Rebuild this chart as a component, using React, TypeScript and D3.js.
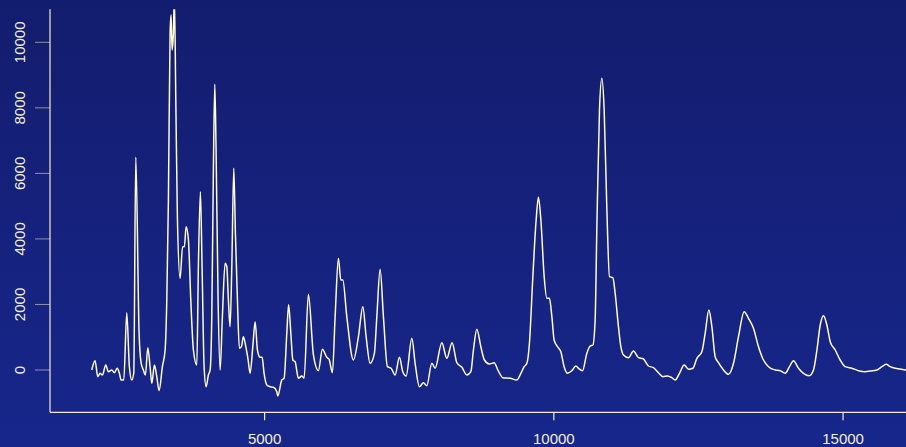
import React, { useMemo } from "react";
import * as d3 from "d3";

// Spectrum: mass-to-charge (Da) and intensity
const massToCharge = [
  2012, 2069, 2116, 2156, 2196, 2254, 2299, 2358, 2403, 2450, 2490, 2519, 2566, 2617, 2662, 2704, 2738, 2773, 2830, 2865,
  2904, 2939, 2981, 3020, 3050, 3095, 3136, 3176, 3233, 3280, 3309, 3337, 3366, 3383, 3401, 3423, 3440, 3465, 3492, 3539,
  3582, 3613, 3643, 3683, 3724, 3769, 3828, 3855, 3890, 3919, 3954, 3989, 4028, 4058, 4087, 4115, 4139, 4161, 4196, 4231,
  4270, 4317, 4346, 4374, 4403, 4433, 4467, 4495, 4530, 4564, 4599, 4633, 4675, 4715, 4749, 4796, 4836, 4876, 4922, 4957,
  4991, 5038, 5095, 5152, 5211, 5228, 5297, 5337, 5384, 5415, 5453, 5488, 5527, 5584, 5643, 5683, 5757, 5844, 5930, 5999,
  6075, 6115, 6172, 6219, 6276, 6317, 6352, 6421, 6535, 6622, 6698, 6755, 6824, 6898, 6940, 6997, 7054, 7123, 7187, 7256,
  7331, 7389, 7447, 7545, 7602, 7676, 7746, 7804, 7891, 7948, 8064, 8150, 8242, 8323, 8410, 8496, 8565, 8610, 8669, 8738,
  8800, 8887, 8968, 9032, 9119, 9245, 9361, 9430, 9487, 9534, 9578, 9637, 9694, 9734, 9776, 9833, 9879, 9924, 9966, 10005,
  10063, 10121, 10178, 10235, 10311, 10381, 10426, 10495, 10571, 10628, 10675, 10714, 10744, 10789, 10830, 10870, 10917, 10962, 11020, 11060,
  11117, 11159, 11204, 11290, 11377, 11463, 11549, 11636, 11722, 11809, 11885, 11964, 12040, 12098, 12172, 12253, 12328, 12404, 12473, 12559,
  12616, 12680, 12732, 12789, 12846, 12933, 13019, 13106, 13192, 13291, 13365, 13451, 13538, 13624, 13711, 13827, 13913, 14000, 14074, 14143,
  14229, 14316, 14414, 14489, 14548, 14605, 14662, 14720, 14778, 14864, 14950, 15037, 15153, 15267, 15383, 15469, 15585, 15671, 15746, 15815,
  15901, 15988, 16074, 16200,
];

const intensity = [
  0, 284, -204, -101, -153, 153, -52, 0, -82, 52, -101, -305, -305, 1749, 101, -305, -92, 6492, 1129, 214,
  0, -153, 681, 101, -406, 153, -204, -632, 101, 610, 2136, 5188, 10276, 10835, 9766, 10285, 11400, 8240, 4679, 2799,
  3763, 3763, 4373, 3968, 2136, 610, 153, 3153, 5442, 3153, 101, -510, -153, 0, 1627, 6205, 8729, 6714, 2136, 0,
  1627, 3256, 3153, 2136, 1322, 3153, 6156, 4181, 2136, 662, 711, 1016, 711, 305, -101, 711, 1474, 610, 388, 388,
  -101, -458, -510, -528, -662, -794, -305, -253, 1129, 1993, 1129, 305, 253, -253, -183, -253, 2310, 458, -21, 632,
  388, 326, -82, 1627, 3409, 2747, 2747, 1627, 305, 1016, 1932, 1016, 204, 510, 1627, 3073, 1627, 101, 52, -153,
  388, -52, -183, 967, 204, -510, -388, -479, 204, 52, 833, 357, 833, 223, 82, -153, -52, 610, 1242, 711,
  305, 183, 223, 0, -235, -253, -305, -101, 101, 204, 815, 2848, 4578, 5271, 4578, 2848, 2188, 2188, 1627, 916,
  711, 559, 101, -101, -21, 122, 52, -21, 510, 732, 763, 1526, 4373, 7935, 8903, 7935, 4883, 2848, 2817, 2341,
  1322, 711, 458, 375, 580, 375, 336, 122, 70, -82, -204, -183, -235, -305, -101, 153, 21, 52, 357, 559,
  1120, 1831, 1322, 406, 223, 0, -131, 204, 1016, 1779, 1578, 1273, 711, 305, 101, 0, -21, -101, 101, 284,
  52, -101, -174, 0, 610, 1373, 1657, 1373, 864, 610, 305, 101, 52, -21, -52, -31, 0, 101, 174, 101,
  52, 31, 0, -20,
];

const xTicks = [5000, 10000, 15000];
const yTicks = [0, 2000, 4000, 6000, 8000, 10000];

const WIDTH = 906;
const HEIGHT = 447;
const INK = "#f3eecb";
const LINE = "#fffbd2";

export default function App() {
  const left = 50;
  const right = WIDTH;
  const top = 9.3;
  const bottom = 412.3;

  const x = useMemo(() => d3.scaleLinear().domain([1290, 16088]).range([left, right]), []);
  const y = useMemo(() => d3.scaleLinear().domain([-1291, 11007]).range([bottom, top]), []);

  const points = massToCharge.map((m, i) => [m, intensity[i]] as [number, number]);
  const path = d3
    .line<[number, number]>()
    .x((d) => x(d[0]))
    .y((d) => y(d[1]))
    .curve(d3.curveMonotoneX)(points) as string;

  return (
    <div style={{ position: "absolute", left: 0, top: 0 }}>
      <svg width={WIDTH} height={HEIGHT} style={{ display: "block" }}>
        <defs>
          <linearGradient id="bg" x1="0" y1="0" x2="0" y2="1">
            <stop offset="0%" stopColor="#131d6e" />
            <stop offset="100%" stopColor="#17268b" />
          </linearGradient>
          <clipPath id="plotArea">
            <rect x={left} y={top} width={right - left} height={bottom - top} />
          </clipPath>
        </defs>
        <rect x={0} y={0} width={WIDTH} height={HEIGHT} fill="url(#bg)" />

        <path d={path} fill="none" stroke={LINE} strokeWidth={1.5} clipPath="url(#plotArea)" strokeLinejoin="round" />

        {/* axes */}
        <line x1={left} x2={left} y1={top} y2={bottom} stroke={INK} strokeWidth={1.2} />
        <line x1={left} x2={right} y1={bottom} y2={bottom} stroke={INK} strokeWidth={1.2} />

        {xTicks.map((t) => (
          <g key={`x${t}`}>
            <line x1={x(t)} x2={x(t)} y1={bottom} y2={bottom + 8} stroke={INK} strokeWidth={1.2} />
            <text
              x={x(t)}
              y={443.5}
              textAnchor="middle"
              fill={INK}
              fontFamily="'Liberation Sans', Arial, sans-serif"
              fontSize={15}
            >
              {t}
            </text>
          </g>
        ))}

        {yTicks.map((t) => (
          <g key={`y${t}`}>
            <line x1={left - 15} x2={left} y1={y(t)} y2={y(t)} stroke={INK} strokeWidth={1} strokeOpacity={0.55} />
            <text
              transform={`translate(24.5, ${y(t)}) rotate(-90)`}
              textAnchor="middle"
              fill={INK}
              fontFamily="'Liberation Sans', Arial, sans-serif"
              fontSize={15}
            >
              {t}
            </text>
          </g>
        ))}
      </svg>
    </div>
  );
}
